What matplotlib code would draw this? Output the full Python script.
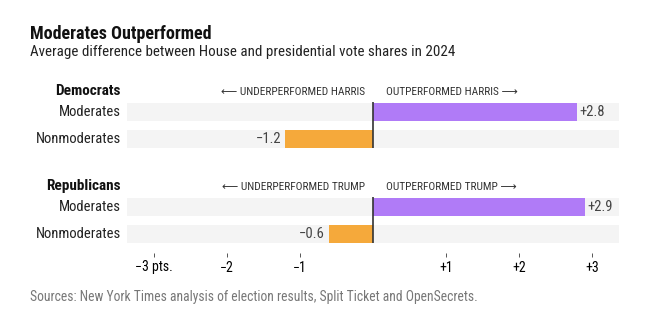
import matplotlib
matplotlib.use("Agg")
import matplotlib.pyplot as plt

# data
groups = ["Democrats", "Republicans"]
categories = ["Moderates", "Nonmoderates"]
dem_values = [2.8, -1.2]
rep_values = [2.9, -0.6]
value_labels = [["+2.8", "\u22121.2"], ["+2.9", "\u22120.6"]]
candidates = ["HARRIS", "TRUMP"]
tick_values = [-3, -2, -1, 1, 2, 3]
tick_labels = ["\u22123 pts.", "\u22122", "\u22121", "+1", "+2", "+3"]

W, H = 646, 323
PURPLE = "#b07bf7"
ORANGE = "#f5a93b"
BG = "#f4f4f4"
FONT = ["Roboto Condensed", "DejaVu Sans"]
plt.rcParams["font.family"] = FONT

fig = plt.figure(figsize=(W / 100, H / 100), dpi=100)

def fx(x):
    return x / W

def fy(y):
    return 1 - y / H

# axes: x=-3.37..3.37 -> px 127..619, y in px from top 95..248
ax_top, ax_bot = 95, 248
ax = fig.add_axes([fx(127), fy(ax_bot), fx(619) - fx(127), (ax_bot - ax_top) / H])
ax.set_xlim(-3.37, 3.37)
ax.set_ylim(ax_bot, ax_top)

row_y = [[112, 139], [207, 234]]
bar_h = 18.5
all_values = [dem_values, rep_values]

for g, vals in enumerate(all_values):
    for i, v in enumerate(vals):
        y = row_y[g][i]
        ax.barh(y, 6.74, left=-3.37, height=bar_h, color=BG, zorder=1)
        ax.barh(y, v, left=0, height=bar_h, color=PURPLE if v > 0 else ORANGE, zorder=2)
        if v > 0:
            ax.text(v + 0.03, y, value_labels[g][i], ha="left", va="center",
                    fontsize=10.5, color="#444444")
        else:
            ax.text(v - 0.06, y, value_labels[g][i], ha="right", va="center",
                    fontsize=10.5, color="#444444")
        fig.text(fx(121), fy(y), categories[i], ha="right", va="center",
                 fontsize=10.5, color="#222222")
    ax.vlines(0, row_y[g][0] - bar_h / 2 - 1, row_y[g][1] + bar_h / 2,
              color="#333333", lw=1.2, zorder=3)

ax.set_xticks(tick_values)
ax.set_xticklabels(tick_labels, fontsize=10, color="#222222")
ax.set_yticks([])
for s in ["top", "left", "right", "bottom"]:
    ax.spines[s].set_visible(False)
ax.spines["bottom"].set_position(("outward", 3.5))
ax.tick_params(axis="x", length=3, width=0.7, color="#555555", pad=2.5)
ax.patch.set_alpha(0)

# group headers and direction labels
head_y = [91, 186]
for g in range(2):
    fig.text(fx(121), fy(head_y[g]), groups[g], ha="right", va="center",
             fontsize=11, fontweight="bold", color="#111111")
    fig.text(fx(365), fy(head_y[g] + 1), "\u27f5 UNDERPERFORMED " + candidates[g],
             ha="right", va="center", fontsize=8.2, color="#333333")
    fig.text(fx(386), fy(head_y[g] + 1), "OUTPERFORMED " + candidates[g] + " \u27f6",
             ha="left", va="center", fontsize=8.2, color="#333333")

fig.text(fx(30), fy(34), "Moderates Outperformed", ha="left", va="center",
         fontsize=13, fontweight="bold", color="#111111")
fig.text(fx(30), fy(52), "Average difference between House and presidential vote shares in 2024",
         ha="left", va="center", fontsize=10.8, color="#222222")
fig.text(fx(30), fy(297), "Sources: New York Times analysis of election results, Split Ticket and OpenSecrets.",
         ha="left", va="center", fontsize=9.8, color="#777777")

fig.savefig("out.png", dpi=100)
